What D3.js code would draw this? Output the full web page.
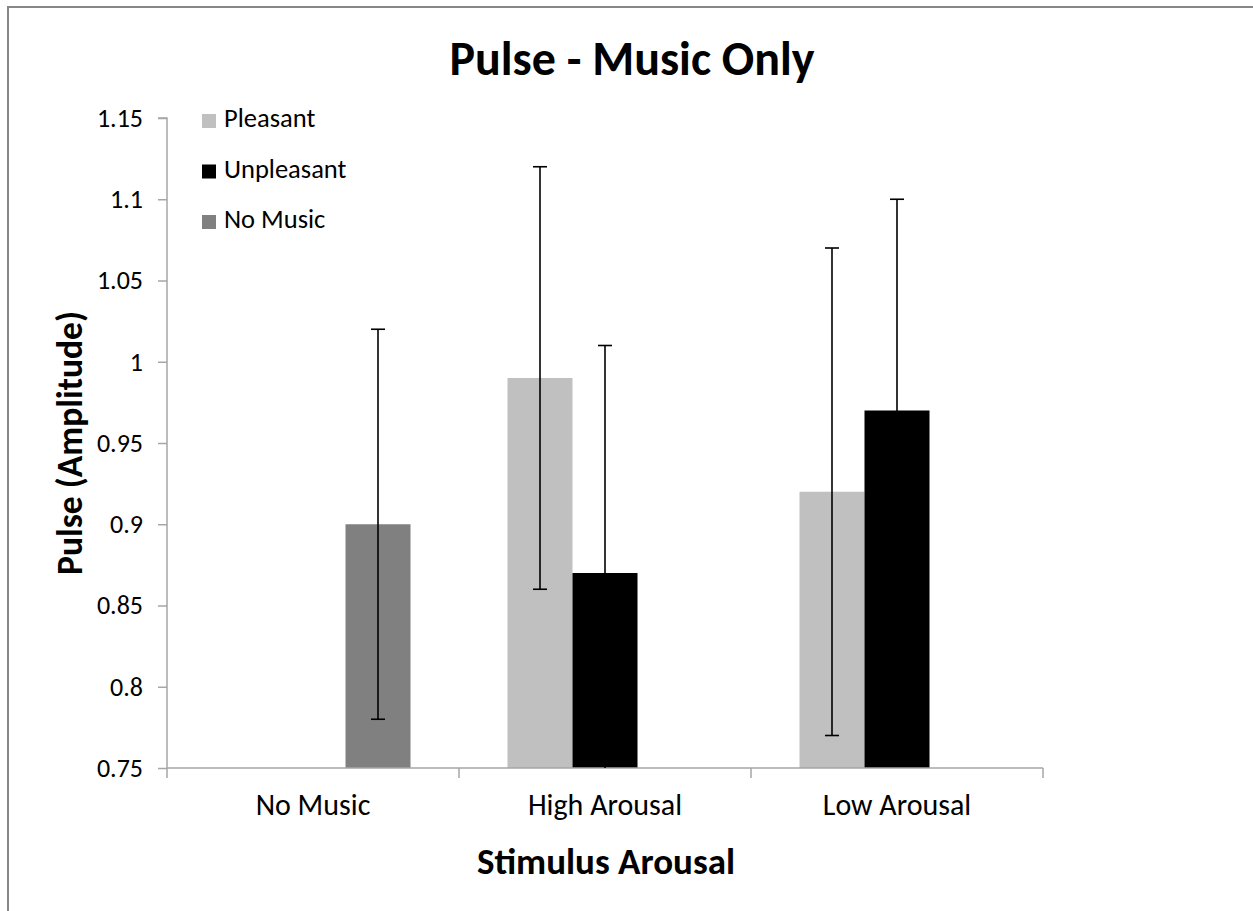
<!DOCTYPE html>
<html>
<head>
<meta charset="utf-8">
<script src="https://cdn.jsdelivr.net/npm/d3@7"></script>
<style>
  html, body { margin: 0; background: #fff; overflow: hidden; }
  svg { display: block; }
  svg text { font-family: Carlito, Calibri, Lato, sans-serif; fill: #000; }
  .axis path, .axis line { stroke: #a6a6a6; stroke-width: 1.5; }
</style>
</head>
<body>
<div id="chart"></div>
<script>
// chart values
var categories = ["No Music", "High Arousal", "Low Arousal"];
var seriesNames = ["Pleasant", "Unpleasant", "No Music"];
var pleasant = [null, 0.99, 0.92];
var unpleasant = [null, 0.87, 0.97];
var noMusic = [0.90, null, null];
var pleasantErr = [null, 0.13, 0.15];
var unpleasantErr = [null, 0.14, 0.13];
var noMusicErr = [0.12, null, null];
var yTicks = [0.75, 0.8, 0.85, 0.9, 0.95, 1, 1.05, 1.1, 1.15];
var colors = ["#c0c0c0", "#000000", "#808080"];

var svgWidth = 1253;
var svgHeight = 911;
var plot = { left: 167, right: 1043, top: 118, bottom: 768 };

var svg = d3.select("#chart")
  .append("svg")
  .attr("width", svgWidth)
  .attr("height", svgHeight);

// frame: only the top and left edges show in the picture
svg.append("path")
  .attr("d", `M8,${svgHeight}V7H${svgWidth}`)
  .attr("fill", "none")
  .attr("stroke", "#878787")
  .attr("stroke-width", 2);

svg.append("clipPath")
  .attr("id", "plotClip")
  .append("rect")
  .attr("x", plot.left).attr("y", 0)
  .attr("width", plot.right - plot.left)
  .attr("height", plot.bottom);

// build rows from the arrays
var values = [pleasant, unpleasant, noMusic];
var errs = [pleasantErr, unpleasantErr, noMusicErr];
var rows = [];
categories.forEach(function(c, i) {
  seriesNames.forEach(function(s, j) {
    if (values[j][i] != null) {
      rows.push({ cat: c, series: s, value: values[j][i], err: errs[j][i], color: colors[j] });
    }
  });
});

// scales
var x0 = d3.scaleBand()
  .domain(categories)
  .range([plot.left, plot.right])
  .padding(0);

var x1 = d3.scaleBand()
  .domain(seriesNames)
  .range([0, x0.bandwidth()])
  .paddingInner(0)
  .paddingOuter(0.746);

var y = d3.scaleLinear()
  .domain([0.75, 1.15])
  .range([plot.bottom, plot.top]);

// y axis
var yAxis = d3.axisLeft(y)
  .tickValues(yTicks)
  .tickSize(9)
  .tickPadding(15)
  .tickFormat(function(d) { return String(+d.toFixed(2)); });

var yg = svg.append("g")
  .attr("class", "axis")
  .attr("transform", `translate(${plot.left}, 0)`)
  .call(yAxis);
yg.select(".domain").attr("d", `M-9,${plot.top}H0V${plot.bottom}`);
yg.selectAll("text").attr("font-size", "26px").attr("fill", "#000");

// bars
svg.selectAll("rect.bar")
  .data(rows)
  .enter()
  .append("rect")
  .attr("class", "bar")
  .attr("x", d => x0(d.cat) + x1(d.series))
  .attr("width", x1.bandwidth())
  .attr("y", d => y(d.value))
  .attr("height", d => y(0.75) - y(d.value))
  .attr("fill", d => d.color);

// x axis (ticks at category boundaries)
var xg = svg.append("g")
  .attr("class", "axis")
  .attr("transform", `translate(0, ${plot.bottom})`);
xg.append("path")
  .attr("d", `M${plot.left},0H${plot.right}`)
  .attr("fill", "none");
xg.selectAll("line.tick")
  .data(categories.map(c => x0(c)).concat([plot.right]))
  .enter()
  .append("line")
  .attr("x1", d => d).attr("x2", d => d)
  .attr("y1", 0).attr("y2", 10);
xg.selectAll("text")
  .data(categories)
  .enter()
  .append("text")
  .attr("x", d => x0(d) + x0.bandwidth() / 2)
  .attr("y", 40)
  .attr("text-anchor", "middle")
  .attr("dominant-baseline", "middle")
  .attr("font-size", "30px")
  .text(d => d);

// error bars (clipped to plot area like the original)
var eb = svg.append("g")
  .attr("clip-path", "url(#plotClip)")
  .selectAll("g.err")
  .data(rows)
  .enter()
  .append("g")
  .attr("class", "err")
  .attr("stroke", "#000")
  .attr("stroke-width", 1.6);
eb.append("line")
  .attr("x1", d => x0(d.cat) + x1(d.series) + x1.bandwidth() / 2)
  .attr("x2", d => x0(d.cat) + x1(d.series) + x1.bandwidth() / 2)
  .attr("y1", d => y(d.value - d.err))
  .attr("y2", d => y(d.value + d.err));
[-1, 1].forEach(function(sign) {
  eb.append("line")
    .attr("x1", d => x0(d.cat) + x1(d.series) + x1.bandwidth() / 2 - 7)
    .attr("x2", d => x0(d.cat) + x1(d.series) + x1.bandwidth() / 2 + 7)
    .attr("y1", d => y(d.value + sign * d.err))
    .attr("y2", d => y(d.value + sign * d.err));
});

// legend
var legend = svg.selectAll("g.legend")
  .data(seriesNames)
  .enter()
  .append("g")
  .attr("class", "legend")
  .attr("transform", (d, i) => `translate(202, ${121 + i * 50.5})`);
legend.append("rect")
  .attr("x", 0).attr("y", -7)
  .attr("width", 14).attr("height", 14)
  .attr("fill", (d, i) => colors[i]);
legend.append("text")
  .attr("x", 22)
  .attr("y", 0)
  .attr("dominant-baseline", "middle")
  .attr("font-size", "26.5px")
  .text(d => d);

// titles
svg.append("text")
  .attr("x", 632)
  .attr("y", 75)
  .attr("text-anchor", "middle")
  .attr("font-size", "48px")
  .attr("font-weight", "bold")
  .text("Pulse - Music Only");

svg.append("text")
  .attr("x", 606)
  .attr("y", 874)
  .attr("text-anchor", "middle")
  .attr("font-size", "37px")
  .attr("font-weight", "bold")
  .text("Stimulus Arousal");

svg.append("text")
  .attr("transform", `translate(82, ${(plot.top + plot.bottom) / 2}) rotate(-90)`)
  .attr("text-anchor", "middle")
  .attr("font-size", "35.5px")
  .attr("font-weight", "bold")
  .text("Pulse (Amplitude)");
</script>
</body>
</html>
